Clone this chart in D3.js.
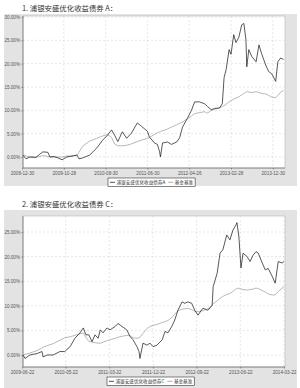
<!DOCTYPE html>
<html>
<head>
<meta charset="utf-8">
<script src="https://cdn.jsdelivr.net/npm/d3@7"></script>
<style>
  body { margin: 0; background: #fff; }
  svg { display: block; font-family: "Noto Sans CJK SC", "Noto Sans", sans-serif; }
  .grid line { stroke: #cfcfcf; stroke-width: 0.5; stroke-dasharray: 2,2; }
  .axis path, .axis line { stroke: #555; stroke-width: 0.6; }
  .axis text { fill: #555; font-size: 4.6px; }
</style>
</head>
<body>
<svg id="chart" width="300" height="388"></svg>
<script>
/* =========================
   DATA
========================= */
const titles = ["1. 浦银安盛优化收益债券 A：", "2. 浦银安盛优化收益债券 C："];
const seriesNames1 = ["浦银安盛优化收益债券A", "基金基准"];
const seriesNames2 = ["浦银安盛优化收益债券C", "基金基准"];

const xTicks1 = ["2008-12-30", "2009-10-28", "2010-08-30", "2011-06-30", "2012-04-26", "2013-02-28", "2013-12-30"];
const yTicks1 = [0, 5, 10, 15, 20, 25, 30];

const dates1 = [
  "2009-01-06", "2009-01-28", "2009-02-25", "2009-04-09", "2009-05-08", "2009-05-30", "2009-07-05",
  "2009-07-20", "2009-08-18", "2009-09-16", "2009-10-15", "2009-11-20", "2009-12-27", "2010-02-02",
  "2010-02-16", "2010-03-15", "2010-05-05", "2010-06-26", "2010-08-08", "2010-09-14", "2010-10-12",
  "2010-11-03", "2010-11-27", "2010-12-30", "2011-01-30", "2011-03-05", "2011-04-18", "2011-05-17",
  "2011-06-30", "2011-07-14", "2011-08-20", "2011-09-10", "2011-09-26", "2011-10-02", "2011-10-17",
  "2011-11-22", "2011-12-20", "2012-01-26", "2012-02-17", "2012-03-09", "2012-04-15", "2012-05-14",
  "2012-06-05", "2012-07-11", "2012-08-17", "2012-09-08", "2012-10-06", "2012-10-30", "2012-12-04",
  "2012-12-26", "2013-01-08", "2013-01-23", "2013-02-14", "2013-02-28", "2013-03-20", "2013-04-05",
  "2013-04-26", "2013-05-17", "2013-06-02", "2013-06-17", "2013-06-23", "2013-07-08", "2013-07-30",
  "2013-08-30", "2013-09-20", "2013-10-11", "2013-11-08", "2013-11-30", "2013-12-23", "2014-01-20",
  "2014-02-05", "2014-02-26", "2014-03-18"
];
const fundA = [
  0.4, -0.4, 0.0, -0.1, 0.6, 1.1, 1.0,
  0.0, 0.1, -0.2, -0.6, 0.0, 0.2, 0.4,
  -0.4, -0.2, 0.4, 1.9, 3.6, 4.7, 5.8,
  4.7, 3.3, 5.4, 4.0, 5.1, 7.3, 6.6,
  5.5, 4.3, 3.0, 2.7, 1.1, 0.0, 3.0,
  3.2, 2.7, 3.2, 4.1, 6.4, 8.4, 10.1,
  11.8, 11.8, 11.4, 10.8, 10.1, 10.4, 10.5,
  11.4, 17.0, 18.7, 23.0, 22.0, 26.2, 24.5,
  25.6, 28.3, 28.6, 25.1, 19.3, 23.0, 21.5,
  20.4, 24.0, 22.0, 19.7, 18.3, 17.8, 16.2,
  20.4, 21.2, 20.9
];
const benchA = [
  0.4, 0.2, 0.0, 0.0, 0.1, 0.3, 0.1,
  0.0, 0.0, 0.0, 0.0, 0.2, 0.2, 0.4,
  1.0, 2.3, 3.4, 4.0, 4.5, 4.8, 4.2,
  2.8, 2.4, 2.4, 2.5, 2.8, 3.3, 3.6,
  4.0, 4.2, 4.8, 5.2, 5.4, 5.5, 5.6,
  6.0, 6.4, 6.9, 7.2, 7.5, 8.2, 8.8,
  9.3, 9.5, 9.7, 9.4, 10.0, 10.2, 10.5,
  10.8, 11.0, 11.3, 11.8, 12.1, 12.4, 12.6,
  12.9, 13.3, 13.6, 13.9, 14.0, 13.9, 13.8,
  14.0, 13.8, 13.6, 13.5, 13.2, 12.8, 12.7,
  13.2, 13.9, 14.2
];

const xTicks2 = ["2009-06-22", "2010-05-22", "2011-03-22", "2011-12-22", "2012-09-22", "2013-06-22", "2014-03-22"];
const yTicks2 = [0, 5, 10, 15, 20, 25];

const dates2 = [
  "2009-06-30", "2009-07-15", "2009-08-22", "2009-10-15", "2009-11-22", "2009-11-30", "2010-01-01",
  "2010-02-15", "2010-04-08", "2010-05-15", "2010-06-22", "2010-07-25", "2010-08-30", "2010-09-22",
  "2010-10-10", "2010-10-30", "2010-11-22", "2010-12-12", "2011-01-03", "2011-01-18", "2011-02-06",
  "2011-03-06", "2011-03-26", "2011-04-28", "2011-05-15", "2011-06-10", "2011-07-10", "2011-07-30",
  "2011-08-18", "2011-09-12", "2011-09-25", "2011-10-01", "2011-10-20", "2011-11-15", "2011-12-03",
  "2011-12-22", "2012-01-16", "2012-02-18", "2012-03-07", "2012-03-25", "2012-04-18", "2012-05-07",
  "2012-05-27", "2012-06-22", "2012-07-10", "2012-07-28", "2012-08-22", "2012-09-10", "2012-09-30",
  "2012-10-31", "2012-12-01", "2012-12-28", "2013-01-03", "2013-01-28", "2013-02-15", "2013-03-05",
  "2013-03-29", "2013-04-18", "2013-05-07", "2013-05-25", "2013-06-01", "2013-06-13", "2013-06-26",
  "2013-07-09", "2013-08-03", "2013-08-22", "2013-09-10", "2013-09-28", "2013-10-12", "2013-11-06",
  "2013-11-25", "2013-12-13", "2014-01-07", "2014-01-26", "2014-02-14", "2014-03-10", "2014-03-22"
];
const fundC = [
  0.0, -0.7, 0.0, 0.3, 0.7, -0.4, 0.0,
  0.0, 0.7, 0.7, 1.7, 3.4, 4.5, 5.5,
  4.1, 4.1, 2.7, 4.1, 3.4, 5.1, 4.5,
  5.5, 5.1, 5.8, 6.4, 5.8, 5.1, 3.8,
  3.1, 1.7, 0.7, -0.7, 2.4, 2.0, 2.4,
  1.7, 2.0, 3.1, 4.8, 4.5, 5.8, 7.1,
  9.1, 10.8, 10.5, 10.8, 10.5, 9.1, 8.1,
  9.5, 9.1, 10.1, 13.9, 16.6, 20.7, 21.4,
  24.4, 23.4, 25.4, 26.4, 26.9, 24.0, 17.7,
  20.7, 20.0, 19.0, 20.3, 21.0, 20.7, 18.7,
  17.3, 17.6, 16.0, 14.6, 19.0, 18.7, 19.0
];
const benchC = [
  0.0, 0.1, 0.4, 0.9, 1.4, 1.6, 1.9,
  2.3, 3.0, 3.5, 3.7, 4.0, 4.3, 4.5,
  3.6, 2.8, 2.6, 2.5, 2.4, 2.4, 2.6,
  2.9, 3.1, 3.4, 3.6, 3.8, 4.0, 3.9,
  3.5, 3.4, 3.5, 3.6, 4.4, 5.4, 5.8,
  6.0, 6.2, 6.6, 6.8, 7.0, 7.6, 8.3,
  9.0, 9.3, 9.4, 9.5, 9.2, 8.9, 8.8,
  9.0, 9.4, 10.2, 10.4, 11.0, 11.5, 11.9,
  12.3, 12.5, 12.9, 13.4, 13.5, 13.6, 13.4,
  13.3, 13.2, 13.3, 13.4, 13.6, 13.5, 13.1,
  12.8, 12.4, 12.2, 12.2, 12.9, 13.6, 13.9
];

/* =========================
   SETUP
========================= */
const parse = d3.timeParse("%Y-%m-%d");
const svg = d3.select("#chart");

drawChart({
  title: titles[0], names: seriesNames1, xTicks: xTicks1, yTicks: yTicks1,
  dates: dates1, fund: fundA, bench: benchA, step: 41.8,
  top: 0, panelH: 172, plotTop: 16, plotBottom: 168, yMin: -2.36, yMax: 30.2,
  legendX: 108
});

drawChart({
  title: titles[1], names: seriesNames2, xTicks: xTicks2, yTicks: yTicks2,
  dates: dates2, fund: fundC, bench: benchC, step: 262 / 6,
  top: 196, panelH: 180, plotTop: 20, plotBottom: 171, yMin: -2.44, yMax: 28.25,
  legendX: 107
});

/* =========================
   DRAW ONE CHART
========================= */
function drawChart(c) {
  const left = 23, right = 285;
  const g = svg.append("g").attr("transform", `translate(0,${c.top})`);

  g.append("text")
    .attr("x", 22).attr("y", 11)
    .attr("font-size", 7.4).attr("fill", "#333")
    .text(c.title);

  // gray panel
  g.append("rect")
    .attr("x", 4).attr("y", 14)
    .attr("width", 293).attr("height", c.panelH)
    .attr("fill", "#e3e3e3");

  g.append("rect")
    .attr("x", left).attr("y", c.plotTop)
    .attr("width", right - left).attr("height", c.plotBottom - c.plotTop)
    .attr("fill", "#fff")
    .attr("stroke", "#aaa").attr("stroke-width", 0.5);

  // x: ticks evenly spaced (piecewise time scale)
  const tickDates = c.xTicks.map(parse);
  const x = d3.scaleTime()
    .domain(tickDates)
    .range(tickDates.map((d, i) => 22 + i * c.step));

  const y = d3.scaleLinear().domain([c.yMin, c.yMax]).range([c.plotBottom, c.plotTop]);

  // grid
  g.append("g").attr("class", "grid")
    .selectAll("line").data(c.yTicks).join("line")
    .attr("x1", left).attr("x2", right)
    .attr("y1", (d) => y(d)).attr("y2", (d) => y(d));

  g.append("g").attr("class", "grid")
    .selectAll("line").data(tickDates.slice(1)).join("line")
    .attr("x1", (d) => x(d)).attr("x2", (d) => x(d))
    .attr("y1", c.plotTop).attr("y2", c.plotBottom);

  // axes
  g.append("g").attr("class", "axis")
    .attr("transform", `translate(${left},0)`)
    .call(d3.axisLeft(y).tickValues(c.yTicks).tickSize(1.5).tickPadding(1.5)
      .tickFormat((d) => d3.format(".2f")(d) + "%"))
    .call((a) => a.select(".domain").attr("d", `M0,${c.plotTop}V${c.plotBottom}`));

  g.append("g").attr("class", "axis")
    .attr("transform", `translate(0,${c.plotBottom})`)
    .call(d3.axisBottom(x).tickValues(tickDates).tickSize(1.5).tickPadding(2)
      .tickFormat(d3.timeFormat("%Y-%m-%d")))
    .call((a) => a.select(".domain").attr("d", `M${left},0H${right}`));

  // lines
  const pts = c.dates.map((d, i) => ({ date: parse(d), fund: c.fund[i], bench: c.bench[i] }));

  g.append("path").datum(pts)
    .attr("fill", "none").attr("stroke", "#9a9a9a").attr("stroke-width", 0.7)
    .attr("d", d3.line().x((d) => x(d.date)).y((d) => y(d.bench)));

  g.append("path").datum(pts)
    .attr("fill", "none").attr("stroke", "#222").attr("stroke-width", 0.75)
    .attr("stroke-linejoin", "round")
    .attr("d", d3.line().x((d) => x(d.date)).y((d) => y(d.fund)));

  // legend
  const ly = c.plotBottom + 10;
  const lg = g.append("g").attr("transform", `translate(${c.legendX},${ly})`);
  const box = lg.append("rect")
    .attr("x", 0).attr("y", 0).attr("height", 8.5)
    .attr("fill", "#fff").attr("stroke", "#333").attr("stroke-width", 0.6);

  lg.append("line").attr("x1", 2).attr("x2", 7).attr("y1", 4.3).attr("y2", 4.3)
    .attr("stroke", "#222").attr("stroke-width", 0.8);
  const t1 = lg.append("text").attr("x", 8.5).attr("y", 6.2)
    .attr("font-size", 4.6).attr("fill", "#333").text(c.names[0]);

  const off = 8.5 + t1.node().getComputedTextLength() + 3;
  lg.append("line").attr("x1", off).attr("x2", off + 5).attr("y1", 4.3).attr("y2", 4.3)
    .attr("stroke", "#9a9a9a").attr("stroke-width", 0.8);
  const t2 = lg.append("text").attr("x", off + 6.5).attr("y", 6.2)
    .attr("font-size", 4.6).attr("fill", "#333").text(c.names[1]);

  box.attr("width", off + 6.5 + t2.node().getComputedTextLength() + 2);
}
</script>
</body>
</html>
